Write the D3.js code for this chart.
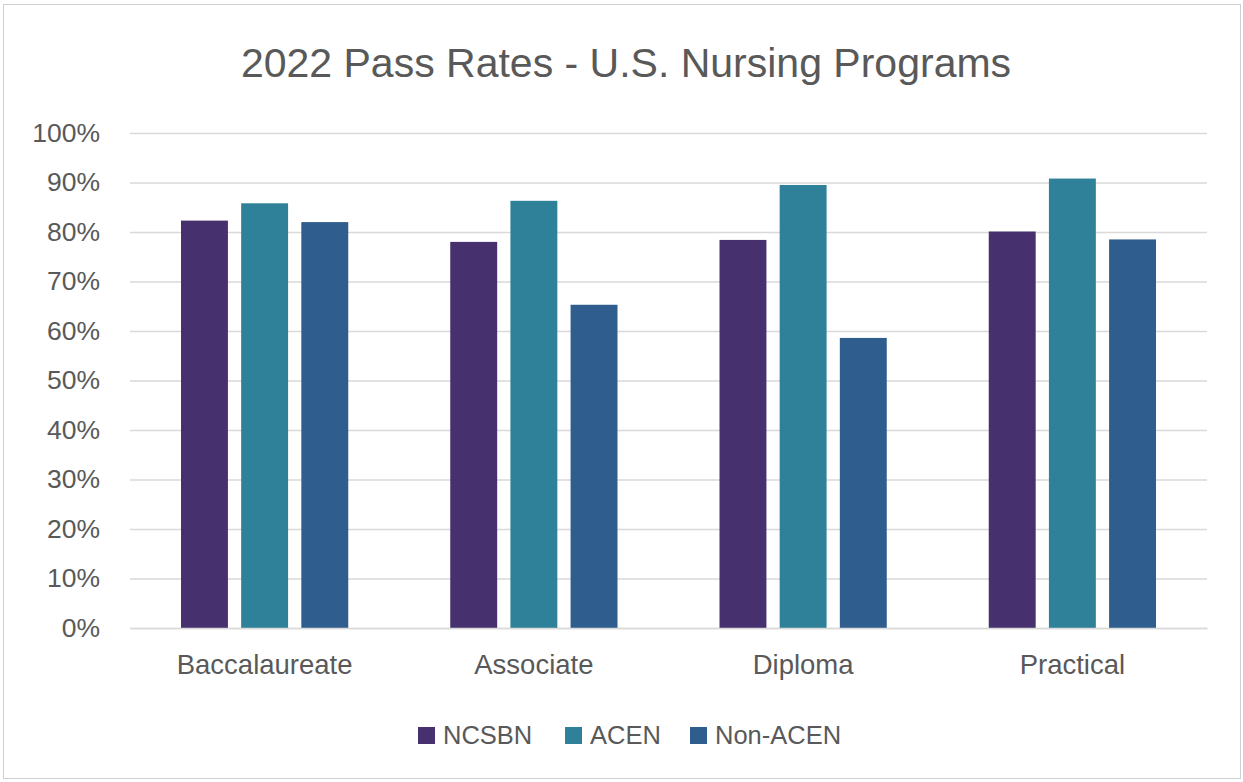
<!DOCTYPE html>
<html>
<head>
<meta charset="utf-8">
<script src="https://cdn.jsdelivr.net/npm/d3@7"></script>
<style>
  body { margin: 0; background: #fff; }
  svg { display: block; font-family: "Liberation Sans", Arial, sans-serif; }
</style>
</head>
<body>
<div id="vis"></div>
<script>

// chart data
const CATEGORIES = ["Baccalaureate", "Associate", "Diploma", "Practical"];
const SERIES = ["NCSBN", "ACEN", "Non-ACEN"];
const NCSBN = [82.3, 78.0, 78.4, 80.1];
const ACEN = [85.8, 86.3, 89.5, 90.8];
const NON_ACEN = [82.0, 65.3, 58.6, 78.5];
const Y_TICKS = [0, 10, 20, 30, 40, 50, 60, 70, 80, 90, 100];

const COLORS = ["#46316e", "#2e8199", "#2f5e8e"];

// frame constants
const FRAME_WIDTH = 1243;
const FRAME_HEIGHT = 782;
const MARGINS = {left: 130, right: 36, top: 133, bottom: 154};
const VIS_WIDTH = FRAME_WIDTH - MARGINS.left - MARGINS.right;
const VIS_HEIGHT = FRAME_HEIGHT - MARGINS.top - MARGINS.bottom;

const FRAME = d3.select("#vis")
  .append("svg")
    .attr("width", FRAME_WIDTH)
    .attr("height", FRAME_HEIGHT);

// outer border
FRAME.append("rect")
  .attr("x", 3.5).attr("y", 4.5)
  .attr("width", FRAME_WIDTH - 6).attr("height", FRAME_HEIGHT - 8)
  .attr("fill", "#fff")
  .attr("stroke", "#d0d0d0");

// title
FRAME.append("text")
  .attr("x", 626).attr("y", 77)
  .attr("text-anchor", "middle")
  .attr("font-size", "41px")
  .attr("fill", "#595959")
  .text("2022 Pass Rates - U.S. Nursing Programs");

// scales
const Y_SCALE = d3.scaleLinear().domain([0, 100]).range([VIS_HEIGHT, 0]);
const X_SCALE = d3.scaleBand().domain(CATEGORIES).range([0, VIS_WIDTH]).paddingInner(0).paddingOuter(0);
const SUB_SCALE = d3.scaleBand().domain(SERIES).range([51, X_SCALE.bandwidth() - 51]).paddingInner(0.22);

const G = FRAME.append("g")
  .attr("transform", "translate(" + MARGINS.left + "," + MARGINS.top + ")");

// gridlines
G.append("g")
  .call(d3.axisLeft(Y_SCALE).tickValues(Y_TICKS).tickSize(-VIS_WIDTH).tickFormat(""))
  .call(g => g.select(".domain").remove())
  .call(g => g.selectAll("line").attr("stroke", "#d9d9d9").attr("stroke-width", 1.5));

// y labels
G.append("g")
  .call(d3.axisLeft(Y_SCALE).tickValues(Y_TICKS).tickSize(0).tickPadding(30).tickFormat(d => d + "%"))
  .call(g => g.select(".domain").remove())
  .call(g => g.selectAll("text").attr("font-size", "26.5px").attr("fill", "#595959")
    .attr("font-family", "\"Liberation Sans\", Arial, sans-serif"));

// bars
const ROWS = CATEGORIES.map((c, i) => ({category: c, values: [NCSBN[i], ACEN[i], NON_ACEN[i]]}));

G.selectAll(".group")
  .data(ROWS)
  .enter()
  .append("g")
    .attr("transform", d => "translate(" + X_SCALE(d.category) + ",0)")
  .selectAll("rect")
  .data(d => d.values.map((v, j) => ({series: SERIES[j], value: v, idx: j})))
  .enter()
  .append("rect")
    .attr("x", d => SUB_SCALE(d.series))
    .attr("y", d => Y_SCALE(d.value))
    .attr("width", SUB_SCALE.bandwidth())
    .attr("height", d => VIS_HEIGHT - Y_SCALE(d.value))
    .attr("fill", d => COLORS[d.idx]);

// x axis
G.append("g")
  .attr("transform", "translate(0," + VIS_HEIGHT + ")")
  .call(d3.axisBottom(X_SCALE).tickSize(0).tickPadding(26))
  .call(g => g.select(".domain").attr("stroke", "#d9d9d9").attr("stroke-width", 1.5))
  .call(g => g.selectAll("text").attr("font-size", "27.5px").attr("fill", "#595959")
    .attr("font-family", "\"Liberation Sans\", Arial, sans-serif"));

// legend
const LEGEND_X = [418, 565, 690];
const LEGEND = FRAME.append("g");
SERIES.forEach((s, i) => {
  LEGEND.append("rect")
    .attr("x", LEGEND_X[i]).attr("y", 727)
    .attr("width", 17).attr("height", 17)
    .attr("fill", COLORS[i]);
  LEGEND.append("text")
    .attr("x", LEGEND_X[i] + 25).attr("y", 744)
    .attr("font-size", "25.5px")
    .attr("fill", "#595959")
    .text(s);
});

</script>
</body>
</html>
